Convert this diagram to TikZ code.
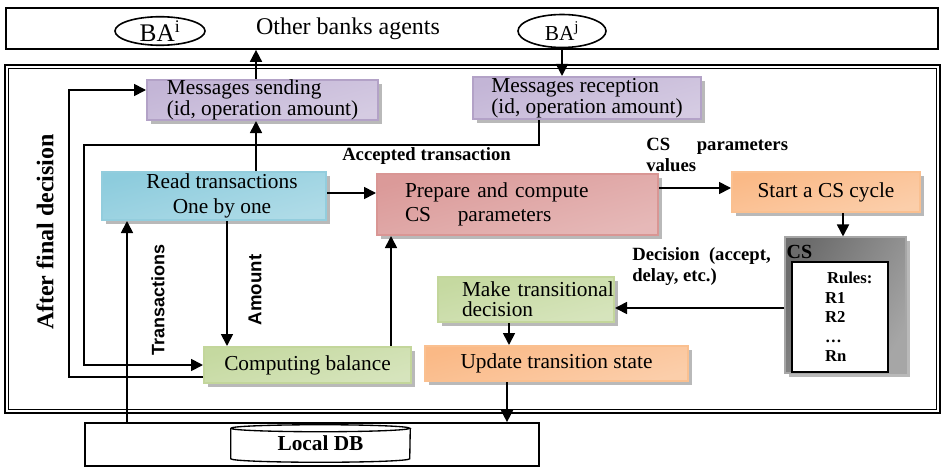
\documentclass[tikz,border=0pt]{standalone}
\usepackage{fontspec}
\setmainfont{Liberation Serif}
\newfontfamily\arialfont{Liberation Sans}
\usetikzlibrary{arrows.meta,shadows,calc,shapes.geometric}
\definecolor{purB}{HTML}{B3A2C7}\definecolor{purM}{HTML}{C3B5D6}\definecolor{purL}{HTML}{F2EFF6}
\definecolor{cyaB}{HTML}{93CDDD}\definecolor{cyaM}{HTML}{8DCCDD}\definecolor{cyaL}{HTML}{E0F1F6}
\definecolor{redB}{HTML}{D99694}\definecolor{redM}{HTML}{DB9A99}\definecolor{redL}{HTML}{F5E2E2}
\definecolor{oraB}{HTML}{FAC090}\definecolor{oraM}{HTML}{FAB986}\definecolor{oraL}{HTML}{FEEDE0}
\definecolor{greB}{HTML}{C3D69B}\definecolor{greM}{HTML}{C5D9A0}\definecolor{greL}{HTML}{EEF4E2}
\begin{document}
\begin{tikzpicture}[x=0.75pt,y=-0.75pt,
  conn/.style={line width=1.3pt,-{Triangle[length=9pt,width=9pt]}},
  flowbox/.style={rectangle,line width=1.5pt,inner sep=0pt,align=left,
    font=\fontsize{16}{14.5}\selectfont,
    drop shadow={shadow xshift=3pt,shadow yshift=-3pt,fill=gray!55,opacity=1}},
  grad/.style={draw=#1B,top color=#1M,middle color=#1L,bottom color=#1M!70!white,shading angle=15},
  lbl/.style={anchor=west,inner sep=0pt,align=left,font=\bfseries\fontsize{14}{15.75}\selectfont}]
\useasboundingbox (0,0) rectangle (941,467);

% frames
\node[draw,line width=1.3pt,minimum width=699pt,minimum height=30.75pt,inner sep=0pt] (others) at (472,28.5) {};
\draw[line width=1.8pt] (5,65) rectangle (940,413);
\draw[line width=0.7pt] (8.5,68.5) rectangle (936.5,409.5);

\node[draw,ellipse,line width=1.2pt,minimum width=67.5pt,minimum height=21pt,inner sep=0pt,font=\fontsize{19}{19}\selectfont] (bai) at (160,31) {BA\textsuperscript{i}};
\node[font=\fontsize{18}{18}\selectfont,inner sep=0pt] (oba) at (348,29) {Other banks agents};
\node[draw,ellipse,line width=1.2pt,minimum width=66pt,minimum height=24.75pt,inner sep=0pt,font=\fontsize{16}{16}\selectfont] (baj) at (562,31) {BA\textsuperscript{j}};

% boxes
\node[flowbox,grad=pur,minimum width=173.25pt,minimum height=30pt] (msgsend) at (262.5,100) {Messages sending\\(id, operation amount)};
\node[flowbox,grad=pur,minimum width=171pt,minimum height=31.5pt] (msgrec) at (587,98) {Messages reception\\(id, operation amount)};
\node[flowbox,grad=cya,minimum width=168pt,minimum height=36pt,align=center,font=\fontsize{16}{18.75}\selectfont] (read) at (214,196) {\hspace*{12pt}Read transactions\\\hspace*{12pt}One by one};
\node[flowbox,grad=red,minimum width=210.75pt,minimum height=45.75pt,text width=168.75pt,inner xsep=21pt,font=\fontsize{16}{18}\selectfont] (prep) at (517.5,204.5) {Prepare and compute\\CS\hspace{20pt}parameters};
\node[flowbox,grad=ora,minimum width=141pt,minimum height=30pt] (start) at (826,192) {Start a CS cycle};
\node[flowbox,grad=gre,minimum width=132pt,minimum height=33.75pt,text width=132pt,font=\fontsize{16}{15}\selectfont] (make) at (526,299.5) {\hspace*{18pt}Make transitional\\\hspace*{18pt}decision};
\node[flowbox,grad=ora,minimum width=197.25pt,minimum height=26.25pt] (update) at (556.5,363.5) {Update transition state};
\node[flowbox,grad=gre,minimum width=155.25pt,minimum height=27pt] (compbal) at (307.5,365) {Computing balance};

% CS box
\node[rectangle,draw=gray!70,line width=0.8pt,top color=gray!85!black,middle color=gray!20,bottom color=gray!70,shading angle=60,
  minimum width=90.75pt,minimum height=102pt,inner sep=0pt,
  drop shadow={shadow xshift=3pt,shadow yshift=-3pt,fill=gray!55,opacity=1}] (cs) at (845.5,305) {};
\node[anchor=north west,inner sep=0pt,font=\bfseries\fontsize{15}{15}\selectfont] (cslabel) at ([xshift=1.5pt,yshift=-6.75pt]cs.north west) {CS};
\node[draw,fill=white,line width=1.2pt,minimum width=72pt,minimum height=82.5pt,text width=72pt,inner sep=0pt,align=left,
  font=\bfseries\fontsize{12.5}{14.6}\selectfont] (rules) at (840,317)
  {\hspace*{26.25pt}Rules:\\\hspace*{24.75pt}R1\\\hspace*{24.75pt}R2\\\hspace*{24.75pt}…\\\hspace*{24.75pt}Rn};

% Local DB
\node[draw,line width=1.3pt,minimum width=340.5pt,minimum height=32.25pt,inner sep=0pt] (localdb) at (312,444.5) {};
\node[minimum width=134.25pt,minimum height=27.75pt,inner sep=0pt,font=\bfseries\fontsize{16}{16}\selectfont] (db) at (320.5,443.5) {Local DB};
\draw[line width=1pt] ([yshift=-2.625pt]db.north west) arc[start angle=180,end angle=-180,x radius=67.125pt,y radius=2.625pt];
\draw[line width=1pt] ([yshift=-2.625pt]db.north west) -- ([yshift=2.625pt]db.south west)
  arc[start angle=180,end angle=360,x radius=67.125pt,y radius=2.625pt] -- ([yshift=-2.625pt]db.north east);

% labels
\node[rotate=90,inner sep=0pt,font=\bfseries\fontsize{18}{18}\selectfont] (afd) at (45,232) {After final decision};
\node[rotate=90,inner sep=0pt,font=\arialfont\bfseries\fontsize{13.5}{14}\selectfont] (trl) at (158,300) {Transactions};
\node[rotate=90,inner sep=0pt,font=\arialfont\bfseries\fontsize{14}{14}\selectfont] (aml) at (255,290) {Amount};
\node[lbl] (acc) at (342,156) {Accepted transaction};
\node[lbl] (csp) at (646,154.5) {CS\hspace{20pt}parameters\\values};
\node[lbl] (dec) at (632,266.5) {Decision\ \ (accept,\\delay, etc.)};

% connectors
\coordinate (c1) at ([xshift=-4.875pt]msgsend.north);
\draw[conn] (c1) -- (c1 |- others.south);
\draw[conn] (c1 |- read.north) -- (c1 |- msgsend.south);
\draw[conn] (baj.south) -- (baj.south |- msgrec.north);
\coordinate (c3) at ([xshift=-36pt]msgrec.south);
\draw[conn] (c3) -- ++(0,25) -| ([xshift=-89.25pt]compbal.west) -- (compbal.west);
\draw[conn] ([yshift=-9pt]compbal.west) -- ++(-134,0) |- ([yshift=7.5pt]msgsend.west);
\coordinate (c5) at ([xshift=-138.75pt]localdb.north);
\draw[conn] (c5) -- (c5 |- read.south);
\coordinate (c6) at ([xshift=9.75pt]read.south);
\draw[conn] (c6) -- (c6 |- compbal.north);
\coordinate (c7) at ([xshift=62.625pt]compbal.north);
\draw[conn] (c7) -- (c7 |- prep.south);
\coordinate (c8) at ([yshift=2.25pt]read.east);
\draw[conn] (c8) -- (c8 -| prep.west);
\coordinate (c9) at ([yshift=12.375pt]prep.east);
\draw[conn] (c9) -- (c9 -| start.west);
\coordinate (c10) at ([xshift=12.75pt]start.south);
\draw[conn] (c10) -- (c10 |- cs.north);
\coordinate (c11) at ([yshift=-2.25pt]cs.west);
\draw[conn] (c11) -- (c11 -| make.east);
\coordinate (c12) at ([xshift=-12.75pt]make.south);
\draw[conn] (c12) -- (c12 |- update.north);
\coordinate (c13) at ([xshift=-37.125pt]update.south);
\draw[conn] (c13) -- (c13 |- localdb.north);
\end{tikzpicture}
\end{document}
